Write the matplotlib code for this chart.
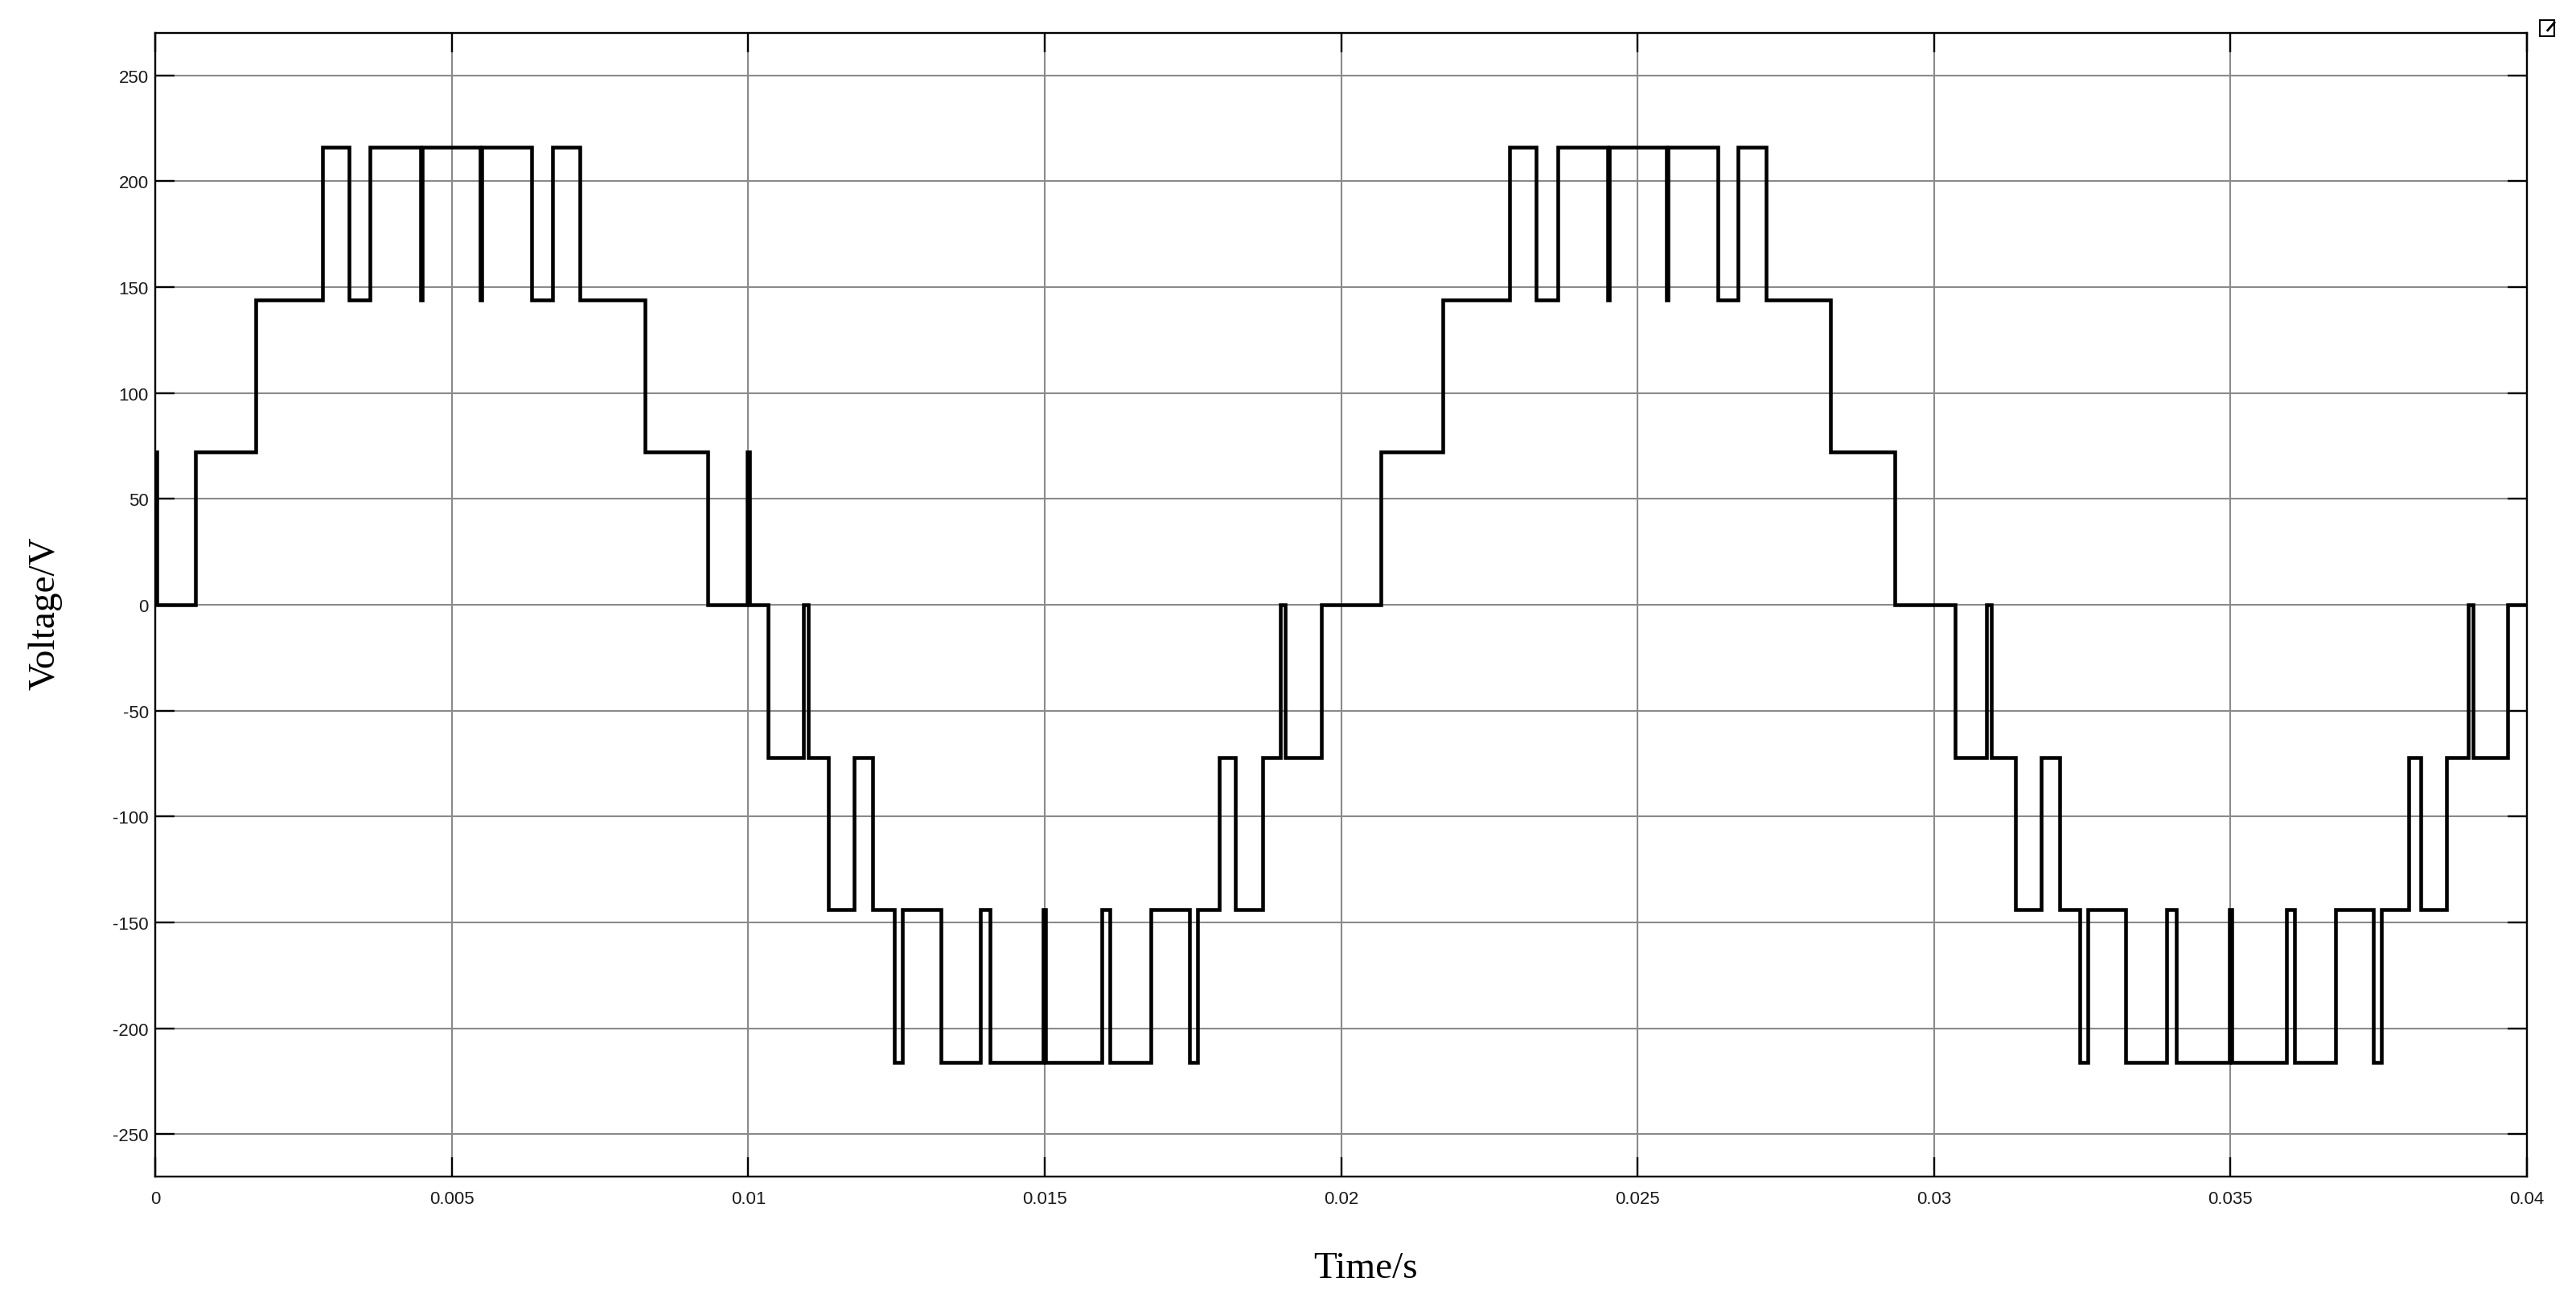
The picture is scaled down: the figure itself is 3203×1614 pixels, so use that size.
import matplotlib
matplotlib.use('Agg')
import matplotlib.pyplot as plt
from matplotlib.patches import Rectangle
from matplotlib.lines import Line2D

plt.rcParams['axes.unicode_minus'] = False

# step waveform: level holds from each switching time until the next one
switch_times = [
    0.0, 0.00003, 0.00067, 0.00170, 0.00282, 0.00327, 0.00362, 0.00447, 0.00450,
    0.00548, 0.00551, 0.00635, 0.00670, 0.00716, 0.00826, 0.00932, 0.00998, 0.01002,
    0.01034, 0.01093, 0.01101, 0.01135, 0.01179, 0.01210, 0.01247, 0.01260, 0.01325,
    0.01391, 0.01408, 0.01498, 0.01502, 0.01596, 0.01610, 0.01679, 0.01744, 0.01758,
    0.01794, 0.01822, 0.01867, 0.01898, 0.01906, 0.01967,
    0.02067, 0.02172, 0.02284, 0.02329, 0.02365, 0.02449, 0.02452, 0.02548, 0.02551,
    0.02636, 0.02670, 0.02717, 0.02826, 0.02934,
    0.03035, 0.03089, 0.03097, 0.03137, 0.03181, 0.03212, 0.03246, 0.03259, 0.03323,
    0.03393, 0.03408, 0.03498, 0.03502, 0.03595, 0.03608, 0.03677, 0.03741, 0.03755,
    0.03800, 0.03821, 0.03864, 0.03901, 0.03909, 0.03968, 0.04,
]
voltage_levels = [
    72, 0, 72, 144, 216, 144, 216, 144, 216,
    144, 216, 144, 216, 144, 72, 0, 72, 0,
    -72, 0, -72, -144, -72, -144, -216, -144, -216,
    -144, -216, -144, -216, -144, -216, -144, -216, -144,
    -72, -144, -72, 0, -72, 0,
    72, 144, 216, 144, 216, 144, 216, 144, 216,
    144, 216, 144, 72, 0,
    -72, 0, -72, -144, -72, -144, -216, -144, -216,
    -144, -216, -144, -216, -144, -216, -144, -216, -144,
    -72, -144, -72, 0, -72, 0, 0,
]

x_ticks = [0, 0.005, 0.01, 0.015, 0.02, 0.025, 0.03, 0.035, 0.04]
x_tick_labels = ['0', '0.005', '0.01', '0.015', '0.02', '0.025', '0.03', '0.035', '0.04']
y_ticks = [-250, -200, -150, -100, -50, 0, 50, 100, 150, 200, 250]

fig = plt.figure(figsize=(32.03, 16.15), dpi=100)
ax = fig.add_axes([0.0603, 0.0935, 0.92065, 0.8805])

ax.step(switch_times, voltage_levels, where='post', color='black', lw=3.3,
        solid_joinstyle='miter', zorder=3)

ax.set_xlim(0, 0.04)
ax.set_ylim(-270, 270)
ax.set_xticks(x_ticks)
ax.set_xticklabels(x_tick_labels)
ax.set_yticks(y_ticks)
ax.grid(True, color='#8a8a8a', lw=1.5)

for s in ax.spines.values():
    s.set_linewidth(1.7)
ax.tick_params(direction='in', length=17, width=1.7, top=True, right=True,
               labelsize=16, colors='black')
ax.tick_params(axis='x', pad=12)
ax.tick_params(axis='y', pad=6)
for lab in ax.get_xticklabels() + ax.get_yticklabels():
    lab.set_family(['Liberation Sans Narrow', 'Liberation Sans', 'DejaVu Sans'])
    lab.set_color('#1a1a1a')

serif = ['Liberation Serif', 'DejaVu Serif']
fig.text(0.0175, 0.528, 'Voltage/V', rotation=90, ha='center', va='center',
         fontsize=34, family=serif)
fig.text(0.530, 0.023, 'Time/s', ha='center', va='center', fontsize=34, family=serif)

# small export icon in the top right corner
fig.patches.append(Rectangle((0.9860, 0.9715), 0.0056, 0.0125, transform=fig.transFigure,
                             fill=False, ec='black', lw=1.5))
fig.lines.append(Line2D([0.9890, 0.9916], [0.9760, 0.9820], transform=fig.transFigure,
                        color='black', lw=2))

fig.savefig('out.png', dpi=100, facecolor='white')
